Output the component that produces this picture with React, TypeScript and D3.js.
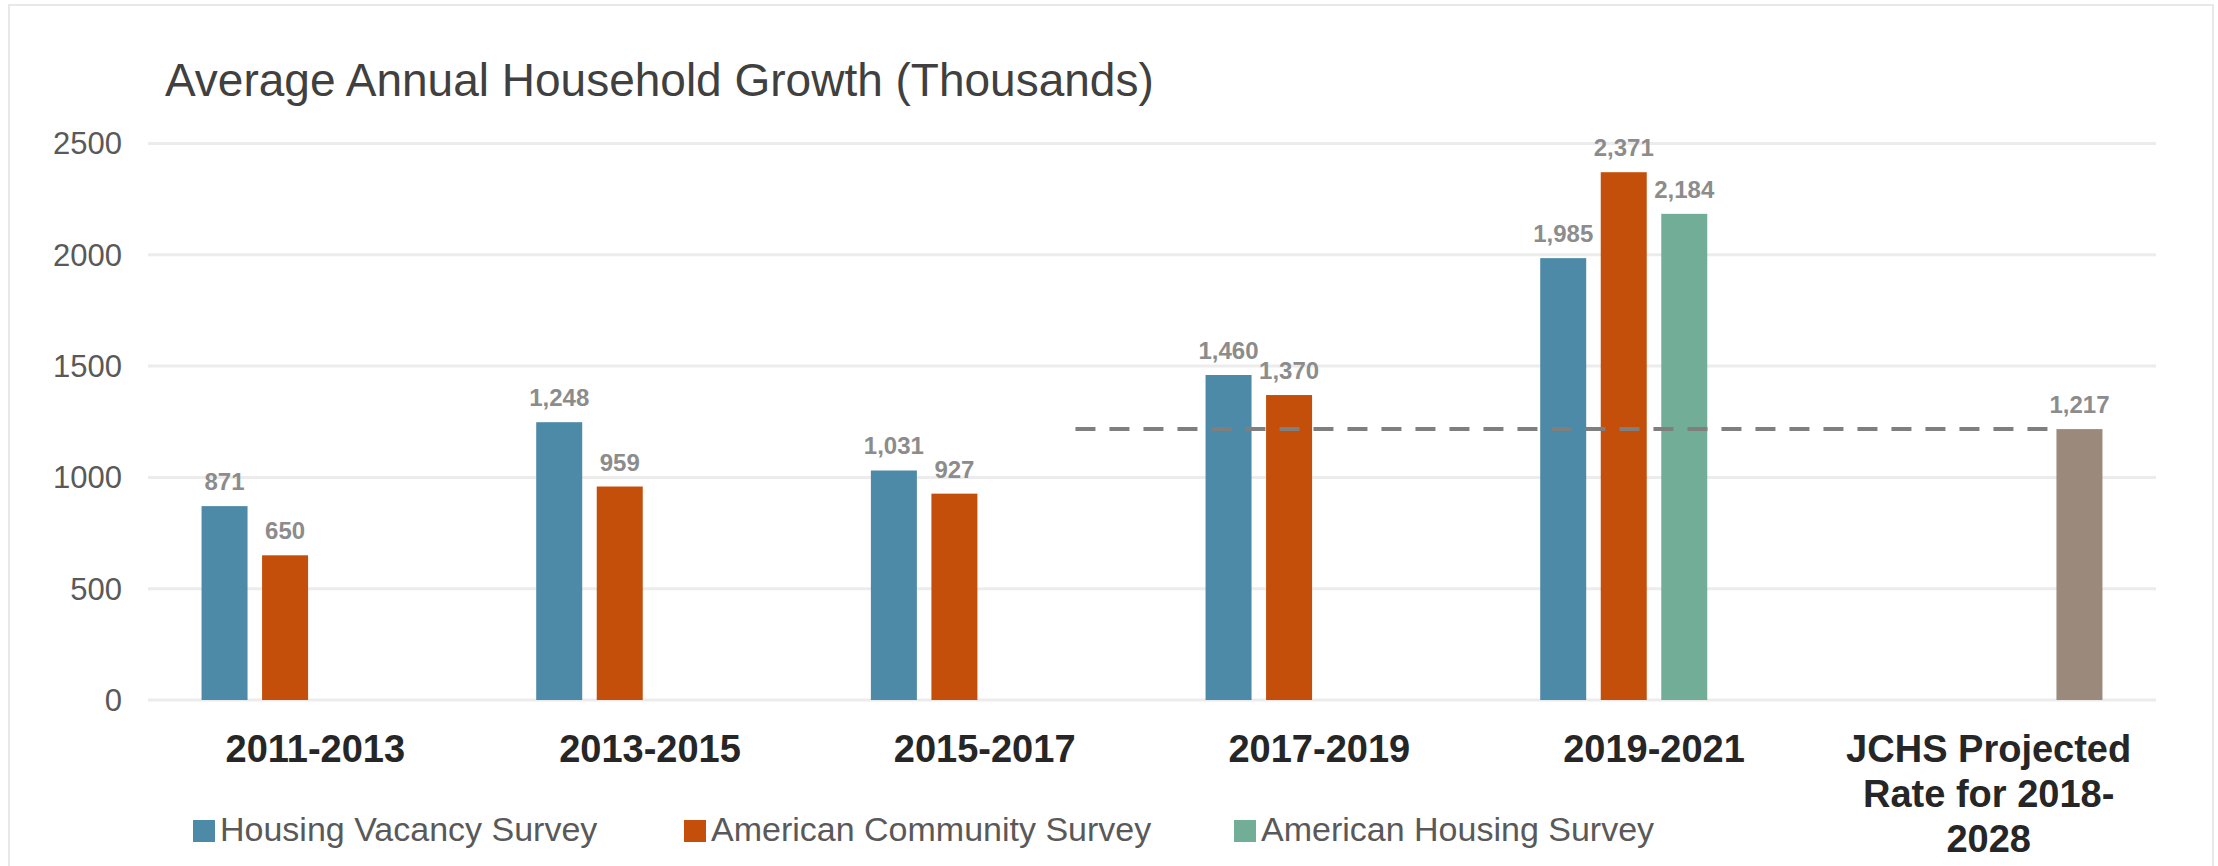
import * as d3 from "d3";

// Average annual household growth, thousands
const CATEGORIES = ["2011-2013", "2013-2015", "2015-2017", "2017-2019", "2019-2021", "JCHS"];
const CATEGORY_LINES = [
  ["2011-2013"],
  ["2013-2015"],
  ["2015-2017"],
  ["2017-2019"],
  ["2019-2021"],
  ["JCHS Projected", "Rate for 2018-", "2028"],
];
const SERIES = ["Housing Vacancy Survey", "American Community Survey", "American Housing Survey", "JCHS Projection"];
const HVS = [871, 1248, 1031, 1460, 1985, null];
const ACS = [650, 959, 927, 1370, 2371, null];
const AHS = [null, null, null, null, 2184, null];
const JCHS = [null, null, null, null, null, 1217];
const Y_TICKS = [0, 500, 1000, 1500, 2000, 2500];
const LEGEND_SERIES = SERIES.slice(0, 3);
const PROJECTION = { value: 1217, from: "2015-2017", to: "JCHS" };

const COLORS = ["#4d8aa7", "#c44f0a", "#72ad97", "#9b8a7c"];
const FONT = "'Liberation Sans', Arial, Helvetica, sans-serif";

const W = 2218;
const H = 866;
const LEGEND_X = [193, 684, 1234];

export default function App() {
  const x0 = d3.scaleBand<string>().domain(CATEGORIES).range([148, 2156]).paddingInner(0.32).paddingOuter(0.16);
  const x1 = d3.scaleBand<string>().domain(SERIES).range([0, x0.bandwidth()]).paddingInner(0.24);
  const y = d3.scaleLinear().domain([0, 2500]).range([700, 143.5]);

  const values = [HVS, ACS, AHS, JCHS];
  const bars = values.flatMap((arr, si) =>
    arr.map((v, ci) => ({ v, si, cat: CATEGORIES[ci] })).filter((d) => d.v != null),
  ) as { v: number; si: number; cat: string }[];

  const fmt = d3.format(",");
  // dashed projection line: from the empty 4th slot of 2015-2017 to the projected bar
  const lineX1 = (x0(PROJECTION.from) ?? 0) + (x1(SERIES[3]) ?? 0) + x1.bandwidth() / 2;
  const lineX2 = (x0(PROJECTION.to) ?? 0) + (x1(SERIES[3]) ?? 0);

  return (
    <svg width={W} height={H} style={{ position: "absolute", left: 0, top: 0, background: "#fff" }} fontFamily={FONT}>
      <rect x={9} y={5} width={2204} height={880} fill="#fff" stroke="#e8e8e8" strokeWidth={2} />

      {/* Title */}
      <text x={165} y={96} fontSize={46} fill="#404040">
        Average Annual Household Growth (Thousands)
      </text>

      {/* Grid + y labels */}
      {Y_TICKS.map((t) => (
        <g key={t}>
          <line x1={148} x2={2156} y1={y(t)} y2={y(t)} stroke="#ececec" strokeWidth={3} />
          <text x={122} y={y(t)} dy="0.35em" fontSize={31} fill="#595959" textAnchor="end">
            {t}
          </text>
        </g>
      ))}

      {/* Bars */}
      {bars.map((d, i) => {
        const bx = (x0(d.cat) ?? 0) + (x1(SERIES[d.si]) ?? 0);
        return (
          <g key={i}>
            <rect x={bx} y={y(d.v)} width={x1.bandwidth()} height={y(0) - y(d.v)} fill={COLORS[d.si]} />
            <text
              x={bx + x1.bandwidth() / 2}
              y={y(d.v) - 16}
              fontSize={24}
              fontWeight="bold"
              fill="#8c8c8c"
              textAnchor="middle"
            >
              {fmt(d.v)}
            </text>
          </g>
        );
      })}

      {/* Projection dashed line */}
      <line
        x1={lineX1}
        x2={lineX2}
        y1={y(PROJECTION.value)}
        y2={y(PROJECTION.value)}
        stroke="#7f7f7f"
        strokeWidth={4}
        strokeDasharray="20 14"
      />

      {/* X labels */}
      {CATEGORIES.map((c, ci) => (
        <text key={c} x={(x0(c) ?? 0) + x0.bandwidth() / 2} y={762} fontSize={38} fontWeight="bold" fill="#262626" textAnchor="middle">
          {CATEGORY_LINES[ci].map((ln, li) => (
            <tspan key={li} x={(x0(c) ?? 0) + x0.bandwidth() / 2} dy={li === 0 ? 0 : 45}>
              {ln}
            </tspan>
          ))}
        </text>
      ))}

      {/* Legend */}
      {LEGEND_SERIES.map((s, i) => (
        <g key={s} transform={`translate(${LEGEND_X[i]},0)`}>
          <rect x={0} y={820} width={22} height={22} fill={COLORS[i]} />
          <text x={27} y={841} fontSize={34} fill="#595959">
            {s}
          </text>
        </g>
      ))}
    </svg>
  );
}
